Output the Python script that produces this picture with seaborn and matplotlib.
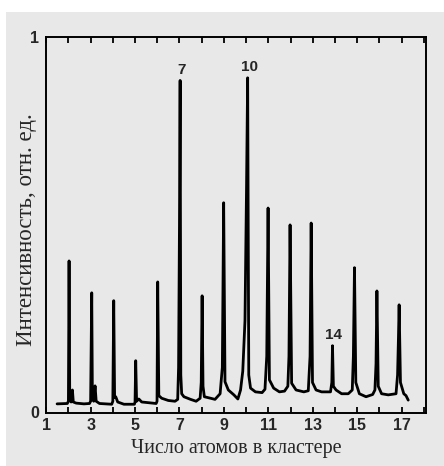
import matplotlib
matplotlib.use("Agg")
import matplotlib.pyplot as plt
from matplotlib.patches import Rectangle
import seaborn as sns

trace_x = [
    1.49, 1.95, 2.00, 2.03, 2.06, 2.12, 2.18, 2.22, 2.35, 2.70, 2.95,
    3.00, 3.05, 3.08, 3.14, 3.20, 3.25, 3.40, 3.95,
    4.00, 4.04, 4.08, 4.13, 4.22, 4.50, 4.97,
    5.00, 5.03, 5.07, 5.17, 5.30, 5.95,
    5.99, 6.02, 6.07, 6.20, 6.50, 6.80, 6.92,
    6.96, 7.00, 7.03, 7.06, 7.10, 7.20, 7.50, 7.75, 7.93,
    7.98, 8.02, 8.06, 8.12, 8.40, 8.60, 8.83,
    8.93, 8.99, 9.05, 9.20, 9.45, 9.63, 9.75,
    9.85, 9.95, 10.02, 10.07, 10.12, 10.20, 10.42, 10.72, 10.85,
    10.93, 10.99, 11.05, 11.24, 11.50, 11.73, 11.88,
    11.93, 11.98, 12.05, 12.25, 12.60, 12.80,
    12.88, 12.93, 12.99, 13.15, 13.40, 13.80,
    13.86, 13.89, 13.93, 14.05, 14.30, 14.60, 14.78,
    14.83, 14.88, 14.94, 15.10, 15.40, 15.70, 15.80,
    15.85, 15.89, 15.95, 16.10, 16.40, 16.75, 16.82,
    16.86, 16.89, 16.95, 17.10, 17.20, 17.30,
]
trace_y = [
    0.023, 0.024, 0.030, 0.404, 0.035, 0.028, 0.060, 0.028, 0.025, 0.023, 0.024,
    0.030, 0.319, 0.035, 0.030, 0.071, 0.030, 0.024, 0.022,
    0.030, 0.298, 0.040, 0.042, 0.028, 0.022, 0.022,
    0.028, 0.138, 0.030, 0.036, 0.028, 0.024,
    0.030, 0.348, 0.045, 0.038, 0.032, 0.030, 0.035,
    0.120, 0.500, 0.885, 0.100, 0.050, 0.042, 0.035, 0.030, 0.038,
    0.080, 0.311, 0.070, 0.042, 0.038, 0.035, 0.050,
    0.120, 0.559, 0.082, 0.060, 0.047, 0.036, 0.060,
    0.110, 0.245, 0.600, 0.892, 0.100, 0.065, 0.055, 0.053, 0.062,
    0.150, 0.545, 0.087, 0.065, 0.055, 0.057, 0.070,
    0.150, 0.500, 0.078, 0.060, 0.055, 0.058,
    0.150, 0.505, 0.080, 0.060, 0.055, 0.055,
    0.080, 0.178, 0.070, 0.060, 0.050, 0.050, 0.060,
    0.150, 0.386, 0.080, 0.050, 0.042, 0.048, 0.060,
    0.130, 0.324, 0.070, 0.050, 0.047, 0.050, 0.100,
    0.200, 0.287, 0.080, 0.050, 0.045, 0.033,
]

# labelled peaks
peak_labels = ["7", "10", "14"]
peak_x = [7.03, 10.07, 13.89]
peak_y = [0.885, 0.892, 0.178]

x_ticks = list(range(1, 19))
x_ticklabels = [str(t) if t % 2 == 1 and t < 18 else "" for t in x_ticks]
y_ticks = [0, 1]
y_ticklabels = ["0", "1"]

panel = "#e8e8e8"
serif = ["Liberation Serif", "DejaVu Serif"]

sns.set_theme(style="ticks")
plt.rcParams["font.family"] = ["Liberation Sans", "DejaVu Sans"]

fig = plt.figure(figsize=(4.44, 4.66), dpi=100, facecolor="white")
fig.patches.append(Rectangle((6 / 444, 0), 1, 1 - 12 / 466, transform=fig.transFigure,
                             facecolor=panel, edgecolor="none", zorder=-5))
ax = fig.add_axes([46.2 / 444, 1 - 412.5 / 466, (426 - 46.2) / 444, (412.5 - 37.3) / 466])
ax.set_facecolor(panel)
ax.set_zorder(2)

sns.lineplot(x=trace_x, y=trace_y, sort=False, estimator=None, ax=ax,
             color="black", linewidth=2.0)

for lab, px, py in zip(peak_labels, peak_x, peak_y):
    ax.annotate(lab, (px, py), xytext=(1, 5), textcoords="offset points",
                ha="center", va="baseline", fontsize=11, fontweight="bold")

ax.set_xlim(1, 18.1)
ax.set_ylim(0, 1)
ax.set_xticks(x_ticks)
ax.set_xticklabels(x_ticklabels, fontsize=11.5, fontweight="bold")
ax.set_yticks(y_ticks)
ax.set_yticklabels(y_ticklabels, fontsize=11.5, fontweight="bold")
ax.tick_params(axis="x", direction="in", length=4, width=1.3, top=True, pad=4, color="black")
ax.tick_params(axis="y", length=0, pad=5)
for s in ax.spines.values():
    s.set_linewidth(1.4)
    s.set_color("black")

ax.set_xlabel("Число атомов в кластере", family=serif, fontsize=14.5, labelpad=4)
ax.set_ylabel("Интенсивность, отн. ед.", family=serif, fontsize=16.5)
ax.yaxis.set_label_coords(-0.024, 0.487)

fig.savefig("out.png", dpi=100, facecolor="white")
